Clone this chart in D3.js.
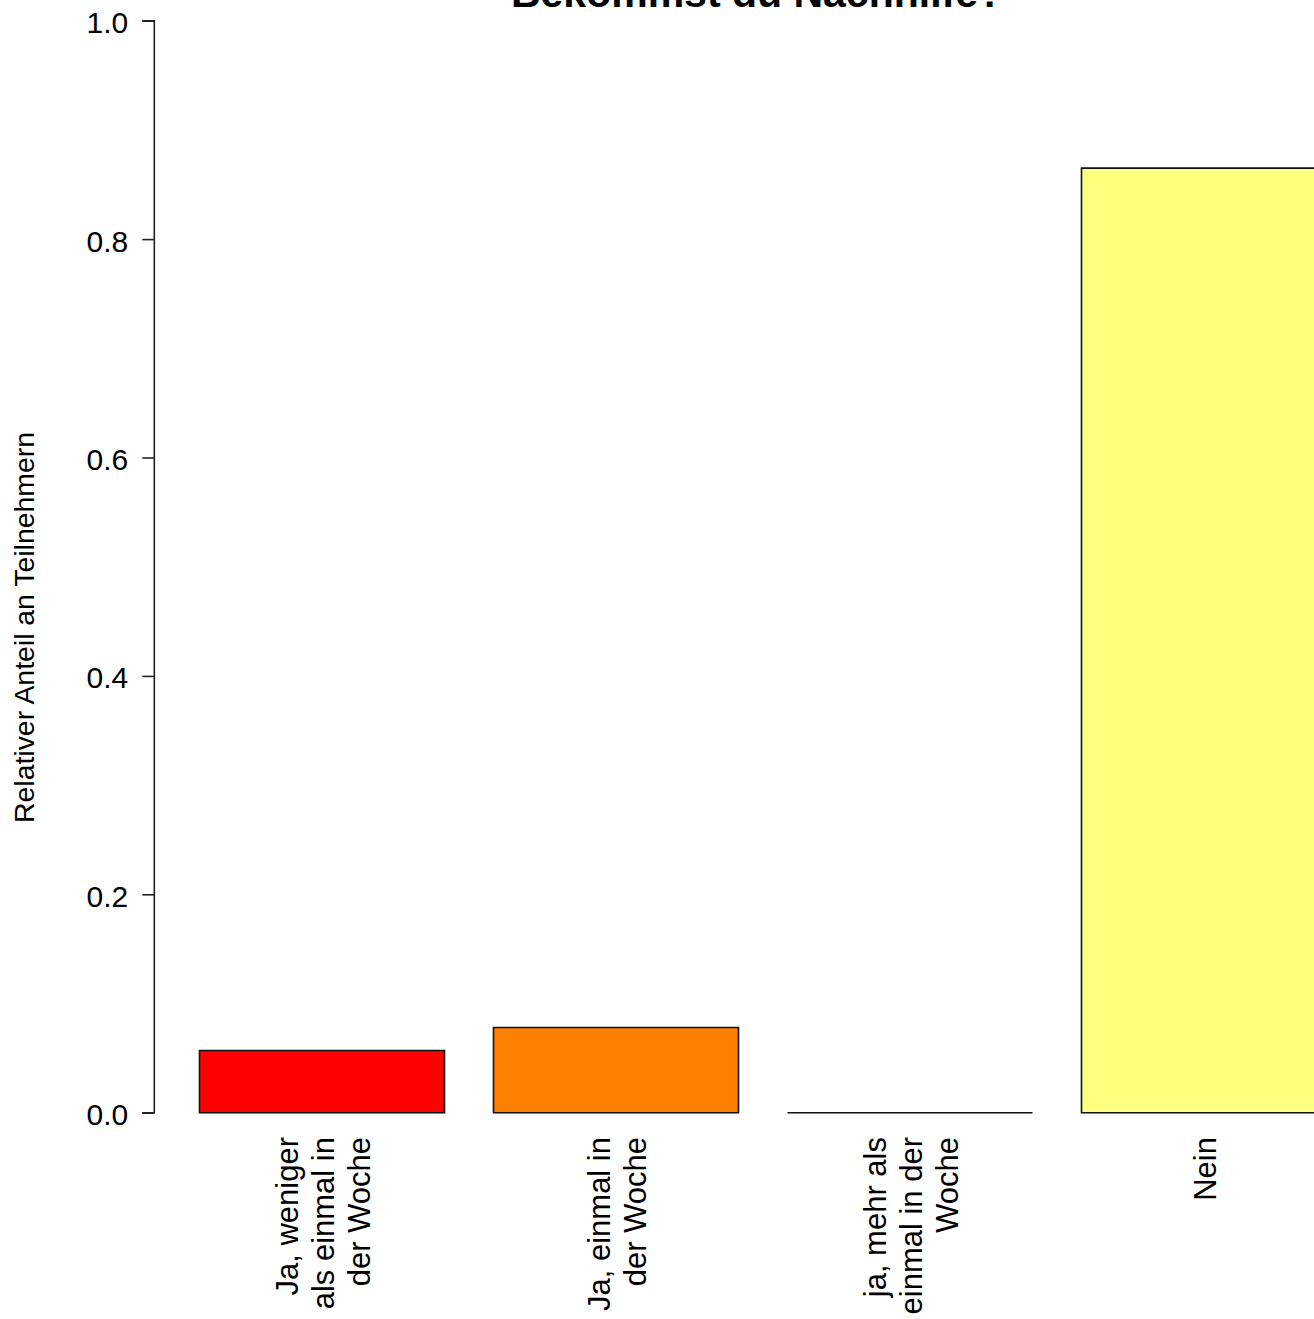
<!DOCTYPE html>
<html>
<head>
<meta charset="utf-8">
<script src="https://cdn.jsdelivr.net/npm/d3@7"></script>
<style>
  body { margin: 0; background: #fff; }
  text { font-family: "Liberation Sans", Arial, sans-serif; fill: #000; }
</style>
</head>
<body>
<svg width="1314" height="1319"></svg>
<script>
// data
var categories = ["Ja, weniger als einmal in der Woche", "Ja, einmal in der Woche",
                  "ja, mehr als einmal in der Woche", "Nein"];
var labelLines = [["Ja, weniger", "als einmal in", "der Woche"],
                  ["Ja, einmal in", "der Woche"],
                  ["ja, mehr als", "einmal in der", "Woche"],
                  ["Nein"]];
var shares = [0.057, 0.078, 0, 0.865];
var colors = ["#FF0000", "#FF8000", "#FFFF00", "#FFFF80"];
var yTicks = [0, 0.2, 0.4, 0.6, 0.8, 1.0];

var svg = d3.select("svg");

var x = d3.scaleBand()
    .domain(categories)
    .range([175, 1351])
    .paddingInner(1 / 6)
    .paddingOuter(1 / 12);

var y = d3.scaleLinear()
    .domain([0, 1])
    .range([1112.7, 20.7]);

// bars as paths so the zero bar still shows its outline
svg.append("g").selectAll("path")
  .data(categories)
  .enter().append("path")
    .attr("d", function(d, i) {
      var x0 = x(d), x1 = x(d) + x.bandwidth();
      return "M" + x0 + "," + y(0) + "V" + y(shares[i]) + "H" + x1 + "V" + y(0) + "Z";
    })
    .attr("fill", function(d, i) { return colors[i]; })
    .attr("stroke", "#111")
    .attr("stroke-width", 1.6);

// y axis
var yAxis = d3.axisLeft(y)
    .tickValues(yTicks)
    .tickFormat(d3.format(".1f"))
    .tickSize(12)
    .tickPadding(14);

var gy = svg.append("g")
    .attr("transform", "translate(154.3,0)")
    .call(yAxis);
gy.select(".domain").attr("stroke", "#222").attr("stroke-width", 1.6)
  .attr("d", "M-12," + y(1) + "H0V" + y(0) + "H-12");
gy.selectAll(".tick line").attr("stroke", "#222").attr("stroke-width", 1.6);
gy.selectAll(".tick text")
    .style("font-size", "30px")
    .attr("dy", "0.4em");

// category labels, rotated and right aligned below the bars
categories.forEach(function(c, i) {
  var lines = labelLines[i];
  var cx = x(c) + x.bandwidth() / 2;
  lines.forEach(function(l, j) {
    var bx = cx + (j - (lines.length - 1) / 2) * 36 + 12;
    svg.append("text")
      .attr("transform", "translate(" + bx + ",1137) rotate(-90)")
      .attr("text-anchor", "end")
      .style("font-size", "31px")
      .text(l);
  });
});

// y label
svg.append("text")
    .attr("transform", "translate(34,627.5) rotate(-90)")
    .attr("text-anchor", "middle")
    .style("font-size", "28.4px")
    .text("Relativer Anteil an Teilnehmern");

// title (cut off at the top, as in the source)
svg.append("text")
    .attr("x", 757)
    .attr("y", 7)
    .attr("text-anchor", "middle")
    .style("font-size", "41px")
    .style("font-weight", "bold")
    .text("Bekommst du Nachhilfe?");
</script>
</body>
</html>
